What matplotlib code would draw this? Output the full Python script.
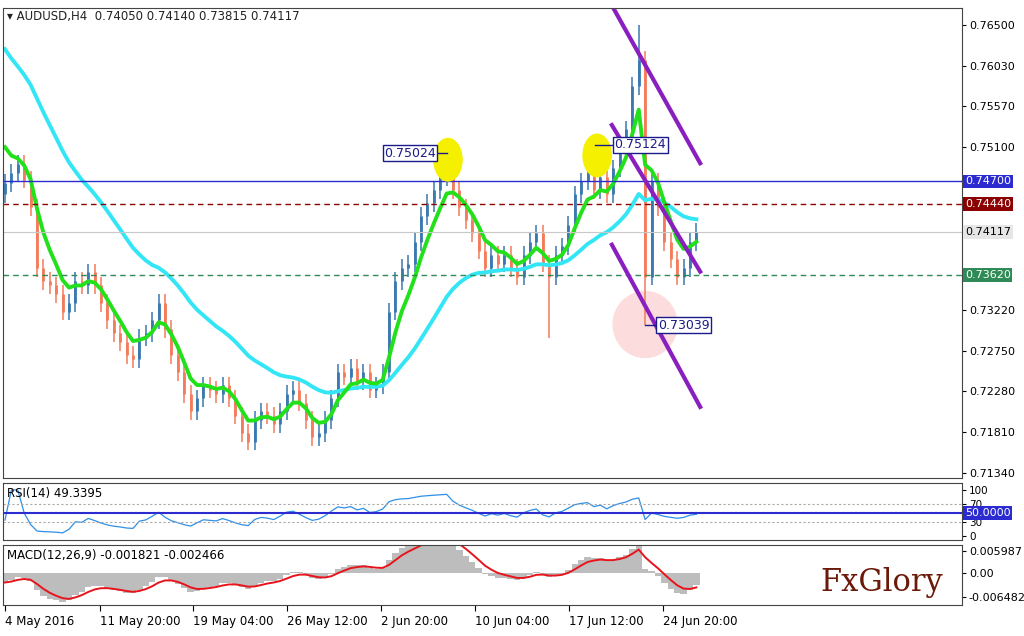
import numpy as np
import pandas as pd
import matplotlib
matplotlib.use("Agg")
import matplotlib.pyplot as plt
from matplotlib.patches import Ellipse

# closes (one bar per ~6.4 px)
closes = [0.7468, 0.7480, 0.7490, 0.7472, 0.7440, 0.7370, 0.7355, 0.7350, 0.7340, 0.7320,
          0.7330, 0.7355, 0.7350, 0.7365, 0.7350, 0.7330, 0.7310, 0.7295, 0.7285, 0.7270,
          0.7265, 0.7290, 0.7295, 0.7310, 0.7330, 0.7300, 0.7270, 0.7250, 0.7225, 0.7205,
          0.7220, 0.7235, 0.7230, 0.7225, 0.7235, 0.7220, 0.7200, 0.7180, 0.7170, 0.7195,
          0.7205, 0.7200, 0.7190, 0.7205, 0.7225, 0.7230, 0.7215, 0.7195, 0.7175, 0.7180,
          0.7195, 0.7220, 0.7250, 0.7245, 0.7255, 0.7240, 0.7250, 0.7230, 0.7235, 0.7250,
          0.7320, 0.7355, 0.7370, 0.7375, 0.7400, 0.7430, 0.7445, 0.7460, 0.7475, 0.7490,
          0.7460, 0.7440, 0.7425, 0.7410, 0.7390, 0.7370, 0.7385, 0.7375, 0.7385, 0.7370,
          0.7360, 0.7385, 0.7400, 0.7410, 0.7375, 0.7360, 0.7385, 0.7395, 0.7420, 0.7455,
          0.7470, 0.7480, 0.7460, 0.7475, 0.7455, 0.7485, 0.7510, 0.7530, 0.7580, 0.7610,
          0.7360, 0.7470, 0.7440, 0.7400, 0.7380, 0.7360, 0.7370, 0.7400, 0.74117]
first_open = 0.7455
spike_high = {69: 0.75024, 96: 0.75124, 99: 0.7650}
spike_low = {85: 0.7290, 100: 0.73039}
fast_seed, slow_seed = 0.7530, 0.7635

levels = {"0.74700": (0.7470, "#2b2bd0"), "0.74440": (0.7444, "#8b0000"),
          "0.73620": (0.7362, "#2e8b57")}
price_ticks = [0.76500, 0.76030, 0.75570, 0.75100, 0.73220, 0.72750, 0.72280, 0.71810, 0.71340]
date_labels = ["4 May 2016", "11 May 20:00", "19 May 04:00", "26 May 12:00", "2 Jun 20:00",
               "10 Jun 04:00", "17 Jun 12:00", "24 Jun 20:00"]
date_pos = [0, 14.8, 29.4, 44.1, 58.75, 73.4, 88.1, 102.8]

c = pd.Series(closes)
opens = pd.concat([pd.Series([first_open]), c[:-1]], ignore_index=True)
n = len(c)
idx = np.arange(n)

def ema_seed(s, a, seed):
    out, v = [], seed
    for x in s:
        v = v + a * (x - v)
        out.append(v)
    return np.array(out)

fast = ema_seed(c, 0.33, fast_seed)
slow = ema_seed(c, 0.075, slow_seed)

d = c.diff().fillna(0)
up = d.clip(lower=0).ewm(alpha=1/9, adjust=False).mean()
dn = (-d.clip(upper=0)).ewm(alpha=1/9, adjust=False).mean()
rsi = 100 - 100 / (1 + up / dn.replace(0, 1e-9))
rsi.iloc[0] = 35
macd = c.ewm(span=5, adjust=False).mean() - c.ewm(span=12, adjust=False).mean()
macd = macd * 1.6 - 0.0025 * np.exp(-idx / 8)
signal = macd.ewm(span=4, adjust=False).mean()

fig = plt.figure(figsize=(10.24, 6.36), dpi=100)
W, H = 1024, 636
def box(top, bot):
    return [3 / W, (H - bot) / H, 959 / W, (bot - top) / H]
ax = fig.add_axes(box(8, 478))
ax_r = fig.add_axes(box(483, 540), sharex=ax)
ax_m = fig.add_axes(box(545, 605), sharex=ax)

xl = (-0.31, 149.5)
ax.set_xlim(*xl)
ax.set_ylim(0.7128, 0.7670)

for i in range(n):
    o, cl = opens[i], c[i]
    col = "#3a78b0" if cl >= o else "#f47a5a"
    hi = spike_high.get(i, max(o, cl) + 0.0010)
    lo = spike_low.get(i, min(o, cl) - 0.0010)
    ax.vlines(i, lo, hi, color=col, lw=1.1)
    ax.vlines(i, min(o, cl), max(o, cl), color=col, lw=2.0)

ax.plot(idx, slow, color="#33e6f5", lw=2.8)
ax.plot(idx, fast, color="#22e01a", lw=2.8)

for lab, (v, col) in levels.items():
    ls = "-" if lab == "0.74700" else (0, (4, 3))
    ax.axhline(v, color=col, lw=1, ls=ls)
ax.axhline(0.74117, color="#c8c8c8", lw=0.8)

# trend channel
for (x0, y0, x1, y1) in [(94.8, 0.7673, 108.6, 0.7491), (94.8, 0.7535, 108.6, 0.7366),
                         (94.8, 0.7397, 108.6, 0.7210)]:
    ax.plot([x0, x1], [y0, y1], color="#8a1fc0", lw=3)

ax.add_patch(Ellipse((69.2, 0.7495), 4.4, 0.0049, color="#f5f000", zorder=5))
ax.add_patch(Ellipse((92.5, 0.7500), 4.4, 0.0049, color="#f5f000", zorder=5))
ax.add_patch(Ellipse((100, 0.7305), 10, 0.0076, color="#fcdcdc", zorder=0))

def mark(xb, xl_, y, txt, ha):
    ax.plot([xb, xl_], [y, y], color="#1a1a8a", lw=1, zorder=6)
    ax.text(xl_, y, txt, ha=ha, va="center", fontsize=9, color="#1a1a8a", zorder=7,
            bbox=dict(boxstyle="square,pad=0.12", fc="white", ec="#1a1a8a", lw=1))
mark(69, 67.3, 0.75024, "0.75024", "right")
ax.plot([69, 69], [0.75024, 0.7490], color="#1a1a8a", lw=1)
mark(92.2, 95.2, 0.75124, "0.75124", "left")
mark(100, 102, 0.73039, "0.73039", "left")

ax.text(0.004, 0.995, "\u25be AUDUSD,H4  0.74050 0.74140 0.73815 0.74117", transform=ax.transAxes,
        ha="left", va="top", fontsize=8.5, color="#222")

for a in (ax, ax_r, ax_m):
    a.yaxis.tick_right()
    a.tick_params(axis="y", labelsize=8, length=3, pad=2)
    a.tick_params(axis="x", length=0, labelbottom=False)
    for s in a.spines.values():
        s.set_color("#444")
ax.set_yticks(price_ticks)
ax.set_yticklabels([f"{t:.5f}" for t in price_ticks])
for lab, (v, col) in list(levels.items()) + [("0.74117", (0.74117, "#e6e6e6"))]:
    tc = "black" if lab == "0.74117" else "white"
    ax.text(1.003, v, lab, transform=ax.get_yaxis_transform(), ha="left", va="center",
            fontsize=8, color=tc, bbox=dict(boxstyle="square,pad=0.15", fc=col, ec="none"),
            clip_on=False)

# RSI
ax_r.set_ylim(-8, 115)
ax_r.plot(idx, rsi, color="#2f8fe6", lw=0.9)
ax_r.axhline(70, color="#aaa", ls=(0, (2, 2)), lw=0.8)
ax_r.axhline(30, color="#aaa", ls=(0, (2, 2)), lw=0.8)
ax_r.axhline(50, color="#2b2bd0", lw=1.5)
ax_r.set_yticks([100, 70, 30, 0])
ax_r.set_yticklabels(["100", "70", "30", "0"], fontsize=7.5)
ax_r.text(1.003, 50, "50.0000", transform=ax_r.get_yaxis_transform(), ha="left", va="center",
          fontsize=8, color="white", bbox=dict(boxstyle="square,pad=0.15", fc="#2b2bd0", ec="none"))
ax_r.text(0.004, 0.93, "RSI(14) 49.3395", transform=ax_r.transAxes, ha="left", va="top", fontsize=8.5)

# MACD
ax_m.set_ylim(-0.0085, 0.0075)
ax_m.bar(idx, macd, width=1.0, color="#bdbdbd")
ax_m.plot(idx, signal, color="#e8141c", lw=1.4)
ax_m.set_yticks([0.005987, 0.0, -0.006482])
ax_m.set_yticklabels(["0.005987", "0.00", "-0.006482"], fontsize=8)
ax_m.text(0.004, 0.93, "MACD(12,26,9) -0.001821 -0.002466", transform=ax_m.transAxes,
          ha="left", va="top", fontsize=8.5)
ax_m.text(0.98, 0.12, "FxGlory", transform=ax_m.transAxes, ha="right", va="bottom",
          fontsize=22, family="DejaVu Serif", color="#6b1a0a")
ax_m.set_xticks(date_pos)
ax_m.set_xticklabels(date_labels, fontsize=8.5, ha="left")
ax_m.tick_params(axis="x", labelbottom=True, length=4, direction="out")
ax_m.set_xlim(*xl)

fig.savefig("out.png", dpi=100)
